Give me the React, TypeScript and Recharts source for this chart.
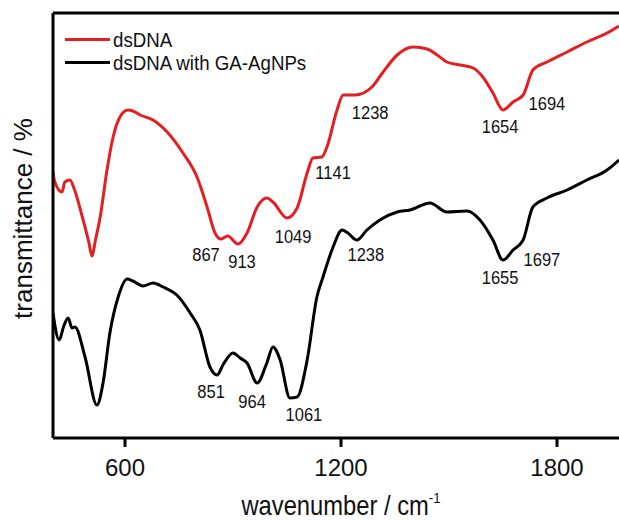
import { LineChart, Line, XAxis, YAxis, ReferenceLine, ReferenceDot } from 'recharts'

const FONT = '"Liberation Sans", Arial, Helvetica, sans-serif'
const RED = '#e41f22'
const BLACK = '#000000'

// x range and ticks (cm-1)
const xDomain = [400, 2000]
const xTicks = [600, 1200, 1800]
// y is arbitrary transmittance units (no scale shown)
const yDomain = [0, 425]

// dsDNA
const redWavenumbers = [
  400, 405, 425, 433, 447, 460, 480, 500, 508, 518, 531, 550, 567, 586, 608, 622, 642, 678, 717, 761,
  800, 828, 850, 867, 885, 914, 939, 967, 994, 1011, 1050, 1078, 1106, 1122, 1147, 1161, 1189, 1206, 1239, 1286,
  1317, 1356, 1400, 1439, 1467, 1494, 1531, 1567, 1594, 1622, 1650, 1678, 1706, 1733, 1772, 1828, 1883, 1939, 1972,
]
const redValues = [
  266, 256, 246, 256, 258, 248, 223, 195, 182, 198, 221, 268, 301, 321, 328, 327, 323, 318, 306, 285,
  261, 231, 205, 199, 202, 194, 205, 231, 240, 236, 220, 230, 265, 280, 281, 291, 328, 343, 343, 351,
  366, 383, 391, 389, 383, 376, 373, 370, 361, 345, 328, 336, 343, 368, 376, 386, 396, 405, 412,
]

// dsDNA with GA-AgNPs
const blackWavenumbers = [
  400, 417, 430, 442, 453, 461, 489, 522, 539, 558, 581, 606, 622, 650, 678, 706, 744, 781, 808, 836,
  856, 872, 900, 920, 939, 967, 994, 1011, 1031, 1058, 1078, 1106, 1133, 1150, 1178, 1203, 1219, 1244, 1272, 1308,
  1356, 1392, 1447, 1494, 1550, 1586, 1622, 1650, 1678, 1706, 1733, 1772, 1828, 1883, 1939, 1972,
]
const blackValues = [
  125, 98, 112, 120, 110, 111, 81, 33, 55, 105, 141, 159, 157, 152, 155, 151, 143, 125, 108, 71,
  63, 73, 85, 80, 75, 55, 75, 91, 78, 40, 41, 78, 141, 161, 191, 208, 205, 198, 208, 218,
  226, 228, 235, 226, 227, 218, 198, 178, 188, 198, 231, 240, 248, 258, 268, 278,
]

// peak annotations: text, and where the text sits (data units)
const redPeakText = ['867', '913', '1049', '1141', '1238', '1654', '1694']
const redPeakAt = [[825, 183], [925, 176], [1067, 201], [1178, 265], [1281, 325], [1642, 311], [1772, 334]]
const blackPeakText = ['851', '964', '1061', '1238', '1655', '1697']
const blackPeakAt = [[839, 46], [953, 36], [1097, 23], [1269, 183], [1642, 160], [1758, 178]]

const redSeries = redWavenumbers.map((w, i) => ({ w, v: redValues[i] }))
const blackSeries = blackWavenumbers.map((w, i) => ({ w, v: blackValues[i] }))

const legendItems = [
  { name: 'dsDNA', color: RED },
  { name: 'dsDNA with GA-AgNPs', color: BLACK },
]

function SqText({ x, y, size, sx, children }: { x: number; y: number; size: number; sx: number; children: any }) {
  return (
    <text
      transform={`translate(${x},${y}) scale(${sx},1)`}
      textAnchor="middle"
      dominantBaseline="central"
      fontSize={size}
      fontFamily={FONT}
      fill="#111"
    >
      {children}
    </text>
  )
}

function XTick({ x, y, payload }: any) {
  return (
    <text x={x} y={y + 27} textAnchor="middle" fontSize={24} fontFamily={FONT} fill="#111">
      {payload.value}
    </text>
  )
}

function XLabel({ viewBox }: any) {
  const cx = viewBox.x + viewBox.width / 2
  return (
    <text
      transform={`translate(${cx},${viewBox.y + 77}) scale(0.88,1)`}
      textAnchor="middle"
      fontSize={27}
      fontFamily={FONT}
      fill="#111"
    >
      wavenumber / cm
      <tspan fontSize={15} dy={-12}>-1</tspan>
    </text>
  )
}

function YLabel({ viewBox }: any) {
  const cy = viewBox.y + viewBox.height / 2 - 7
  return (
    <text
      transform={`translate(23,${cy}) rotate(-90)`}
      textAnchor="middle"
      dominantBaseline="central"
      fontSize={26}
      fontFamily={FONT}
      fill="#111"
    >
      transmittance / %
    </text>
  )
}

function Peaks({ texts, at }: { texts: string[]; at: number[][] }) {
  return texts.map((t, i) => (
    <ReferenceDot
      key={t + i}
      x={at[i][0]}
      y={at[i][1]}
      r={0}
      ifOverflow="visible"
      shape={(p: any) => (
        <SqText x={p.cx} y={p.cy} size={19} sx={0.87}>
          {t}
        </SqText>
      )}
    />
  ))
}

export default function App() {
  return (
    <div style={{ position: 'absolute', left: 0, top: 0, width: 619, height: 521, overflow: 'hidden', background: '#fff' }}>
      <LineChart width={640} height={521} margin={{ top: 13, right: 11, bottom: 0, left: 0 }}>
        <XAxis
          dataKey="w"
          type="number"
          domain={xDomain}
          ticks={xTicks}
          allowDataOverflow
          height={83}
          axisLine={{ stroke: '#000', strokeWidth: 3 }}
          tickLine={{ stroke: '#000', strokeWidth: 3 }}
          tickSize={9}
          tick={<XTick />}
          label={{ content: <XLabel /> }}
        />
        <YAxis
          type="number"
          domain={yDomain}
          allowDataOverflow
          width={53}
          tick={false}
          tickLine={false}
          axisLine={{ stroke: '#000', strokeWidth: 3 }}
          label={{ content: <YLabel /> }}
        />
        <ReferenceLine y={yDomain[1]} stroke="#000" strokeWidth={3} ifOverflow="visible" />
        <Line
          data={redSeries}
          dataKey="v"
          name="dsDNA"
          type="monotone"
          stroke={RED}
          strokeWidth={3}
          dot={false}
          isAnimationActive={false}
        />
        <Line
          data={blackSeries}
          dataKey="v"
          name="dsDNA with GA-AgNPs"
          type="monotone"
          stroke={BLACK}
          strokeWidth={3}
          dot={false}
          isAnimationActive={false}
        />
        {Peaks({ texts: redPeakText, at: redPeakAt })}
        {Peaks({ texts: blackPeakText, at: blackPeakAt })}
      </LineChart>
      <div style={{ position: 'absolute', left: 65, top: 28, fontFamily: FONT }}>
        {legendItems.map((it) => (
          <div key={it.name} style={{ display: 'flex', alignItems: 'center', height: 23 }}>
            <div style={{ width: 45, height: 3, background: it.color, marginRight: 3 }} />
            <span
              style={{
                fontSize: 21,
                color: '#111',
                whiteSpace: 'nowrap',
                transform: 'scaleX(0.89)',
                transformOrigin: 'left center',
                display: 'inline-block',
              }}
            >
              {it.name}
            </span>
          </div>
        ))}
      </div>
    </div>
  )
}
